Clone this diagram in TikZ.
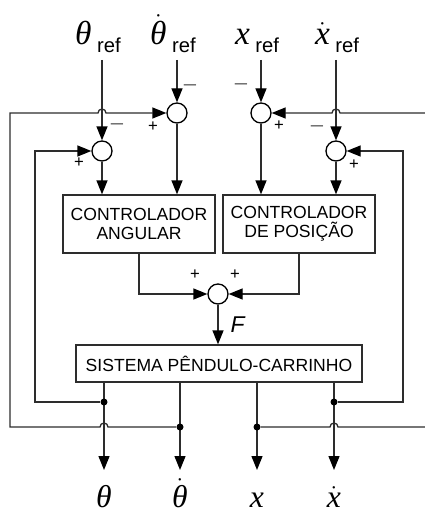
\documentclass[tikz,border=0pt]{standalone}
\usepackage{fontspec}
\setsansfont{Liberation Sans}
\newfontfamily\lblfont{Liberation Serif}
\usepackage{xcolor}
\definecolor{wiregrey}{RGB}{45,45,45}
\usepackage{tikz}
\usetikzlibrary{arrows.meta,positioning,calc}
\newcommand{\vr}[1]{{\lblfont\itshape #1}}
\newcommand{\vd}[1]{$\dot{\mbox{\vr{#1}}}$}
\newcommand{\rf}[1]{#1\,\raisebox{-4.5pt}{\fontsize{11.5}{12}\selectfont\sffamily ref}}
\newcommand{\hr}{0.08}
\tikzset{
  blk/.style={draw=wiregrey, line width=0.75pt, align=center, inner sep=0pt, font=\fontsize{10}{10.8}\selectfont\sffamily},
  sumn/.style={draw=black, circle, fill=white, minimum size=0.4cm, inner sep=0pt, line width=0.75pt},
  wire/.style={draw=wiregrey, line width=0.75pt},
  arr/.style={wire, -{Triangle[length=0.28cm, width=0.22cm, color=black]}},
  sgn/.style={inner sep=0pt, font=\fontsize{9.5}{10}\selectfont\sffamily},
  minus/.style={inner sep=0pt, font=\fontsize{7}{8}\selectfont\sffamily},
  inl/.style={anchor=south, inner sep=0pt, text depth=0.3cm, font=\fontsize{19}{21}\selectfont},
  outl/.style={anchor=north, inner sep=0pt, text height=0.75cm, font=\fontsize{18}{20}\selectfont},
  jdot/.style={circle, fill=black, inner sep=0pt, minimum size=0.14cm},
  lbl/.style={font=\fontsize{13}{14}\selectfont\sffamily\itshape}
}
\begin{document}
\begin{tikzpicture}
  \useasboundingbox (0,0) rectangle (8.48,-10.28);
  \node[inl] (thref) at (1.96,-1.2) {\rf{\vr{θ}}};
  \node[inl] (dthref) at (3.46,-1.2) {\rf{\vd{θ}}};
  \node[inl] (xref) at (5.14,-1.2) {\rf{\vr{x}}};
  \node[inl] (dxref) at (6.74,-1.2) {\rf{\vd{x}}};
  \node[sumn] (sumdth) at (3.54,-2.26) {};
  \node[sumn] (sumth) at (2.04,-3.02) {};
  \node[sumn] (sumx) at (5.22,-2.26) {};
  \node[sumn] (sumdx) at (6.72,-3.02) {};
  \node[minus] (mdth) at ([shift={(0.26,0.52)}]sumdth) {\textemdash};
  \node[sgn] (pdth) at ([shift={(-0.48,-0.28)}]sumdth) {+};
  \node[minus] (mth) at ([shift={(0.3,0.5)}]sumth) {\textemdash};
  \node[sgn] (pth) at ([shift={(-0.46,-0.24)}]sumth) {+};
  \node[minus] (mx) at ([shift={(-0.4,0.54)}]sumx) {\textemdash};
  \node[sgn] (px) at ([shift={(0.36,-0.26)}]sumx) {+};
  \node[minus] (mdx) at ([shift={(-0.38,0.46)}]sumdx) {\textemdash};
  \node[sgn] (pdx) at ([shift={(0.36,-0.28)}]sumdx) {+};
  \node[blk, minimum width=3.04cm, minimum height=1.16cm] (ctrlang) at (2.78,-4.48) {CONTROLADOR\\ANGULAR};
  \node[blk, minimum width=3.04cm, minimum height=1.16cm] (ctrlpos) at (5.98,-4.48) {CONTROLADOR\\DE POSIÇÃO};
  \node[sumn] (sumF) at (4.36,-5.88) {};
  \node[sgn] (pang) at ([shift={(-0.46,0.38)}]sumF) {+};
  \node[sgn] (ppos) at ([shift={(0.34,0.38)}]sumF) {+};
  \node[blk, minimum width=5.72cm, minimum height=0.74cm] (plant) at (4.38,-7.27) {SISTEMA PÊNDULO-CARRINHO};
  \node[outl] (thout) at (2.08,-9.4) {\vr{θ}};
  \node[outl] (dthout) at (3.6,-9.4) {\vd{θ}};
  \node[outl] (xout) at (5.14,-9.4) {\vr{x}};
  \node[outl] (dxout) at (6.68,-9.4) {\vd{x}};
  \draw[arr] (thref.south -| sumth) -- (sumth);
  \draw[arr] (dthref.south -| sumdth) -- (sumdth);
  \draw[arr] (xref.south -| sumx) -- (sumx);
  \draw[arr] (dxref.south -| sumdx) -- (sumdx);
  \draw[arr] (sumth) -- (sumth |- ctrlang.north);
  \draw[arr] (sumdth) -- (sumdth |- ctrlang.north);
  \draw[arr] (sumx) -- (sumx |- ctrlpos.north);
  \draw[arr] (sumdx) -- (sumdx |- ctrlpos.north);
  \draw[arr] (ctrlang.south) |- (sumF);
  \draw[arr] (ctrlpos.south) |- (sumF);
  \draw[arr] (sumF) -- (sumF |- plant.north) node[lbl, midway, right=0.12cm] (flbl) {F};
  \draw[arr] (plant.south -| thout) -- (thout.north);
  \draw[arr] (plant.south -| dthout) -- (dthout.north);
  \draw[arr] (plant.south -| xout) -- (xout.north);
  \draw[arr] (plant.south -| dxout) -- (dxout.north);
  \node[jdot] (jth) at (2.08,-8.04) {};
  \node[jdot] (jdth) at (3.6,-8.54) {};
  \node[jdot] (jx) at (5.14,-8.54) {};
  \node[jdot] (jdx) at (6.68,-8.04) {};
  \draw[arr] (jth) -- (0.7,-8.04) |- (sumth);
  \draw[arr] (jdx) -- (8.06,-8.04) |- (sumdx);
  \draw[arr] (jdth) -- ($(thout.north |- jdth)+(\hr,0)$) arc (0:180:\hr) -- (0.2,-8.54) |- ($(sumth |- sumdth)+(-\hr,0)$) arc (180:0:\hr) -- (sumdth);
  \draw[arr] (jx) -- ($(dxout.north |- jx)+(-\hr,0)$) arc (180:0:\hr) -- (8.6,-8.54) -- (8.6,-2.26) -- ($(sumdx |- sumx)+(\hr,0)$) arc (0:180:\hr) -- (sumx);
\end{tikzpicture}
\end{document}
